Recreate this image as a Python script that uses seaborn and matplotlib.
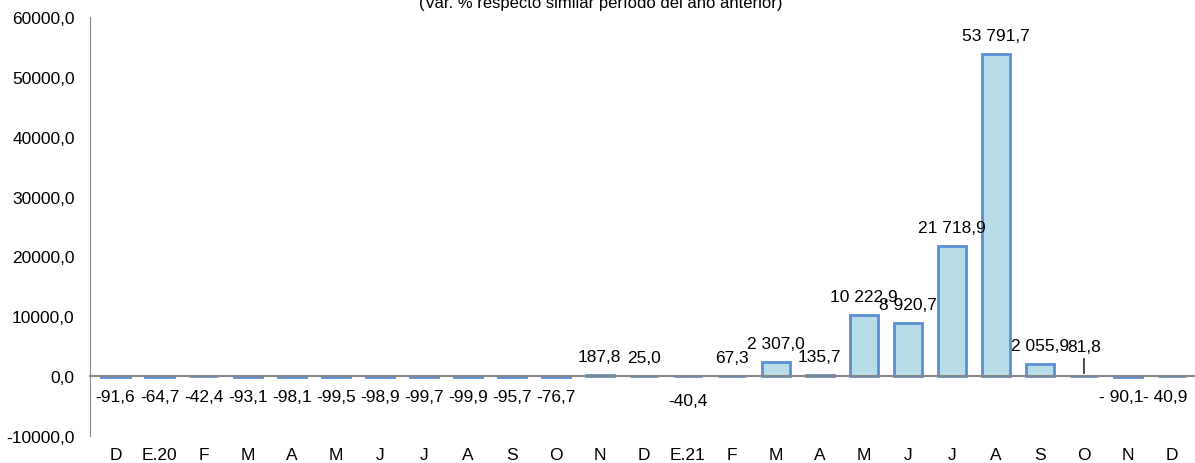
import numpy as np
import pandas as pd
import matplotlib
matplotlib.use("Agg")
import matplotlib.pyplot as plt
import seaborn as sns

meses = ["D", "E.20", "F", "M", "A", "M", "J", "J", "A", "S", "O", "N", "D",
         "E.21", "F", "M", "A", "M", "J", "J", "A", "S", "O", "N", "D"]
valores = [-91.6, -64.7, -42.4, -93.1, -98.1, -99.5, -98.9, -99.7, -99.9, -95.7, -76.7,
           187.8, 25.0, -40.4, 67.3, 2307.0, 135.7, 10222.9, 8920.7, 21718.9, 53791.7,
           2055.9, 81.8, -90.1, -40.9]
etiquetas = ["-91,6", "-64,7", "-42,4", "-93,1", "-98,1", "-99,5", "-98,9", "-99,7", "-99,9",
             "-95,7", "-76,7", "187,8", "25,0", "-40,4", "67,3", "2 307,0", "135,7",
             "10 222,9", "8 920,7", "21 718,9", "53 791,7", "2 055,9", "81,8",
             "- 90,1", "- 40,9"]
yticks = [-10000, 0, 10000, 20000, 30000, 40000, 50000, 60000]
titulo = "(Var. % respecto similar período del año anterior)"

df = pd.DataFrame({"idx": np.arange(len(valores)), "valor": valores})

sns.set_style("white")
plt.rcParams["font.family"] = ["Liberation Sans", "DejaVu Sans"]
plt.rcParams["text.color"] = "black"
plt.rcParams["xtick.labelcolor"] = "black"
plt.rcParams["ytick.labelcolor"] = "black"

fs = 12.5
gris = "#878787"
fig = plt.figure(figsize=(11.95, 4.64), dpi=100)
ax = fig.add_axes([90 / 1195, 27 / 464, 1104 / 1195, 419 / 464])

sns.barplot(data=df, x="idx", y="valor", ax=ax, width=0.64, color="#B7DDE8",
            saturation=1, edgecolor="#5B8FD6", linewidth=2)

ax.set_ylim(-10000, 60000)
ax.set_xlim(-0.58, len(valores) - 0.5)
ax.set_yticks(yticks)
ax.set_yticklabels([f"{v:.1f}".replace(".", ",") for v in yticks], fontsize=fs)
ax.set_xlabel("")
ax.set_ylabel("")

ax.spines["top"].set_visible(False)
ax.spines["right"].set_visible(False)
ax.spines["left"].set_color(gris)
ax.spines["bottom"].set_color(gris)
ax.spines["bottom"].set_linewidth(1.5)
ax.spines["bottom"].set_position(("data", 0))
ax.spines["bottom"].set_zorder(5)

ax.set_xticks(np.arange(len(meses)))
ax.set_xticklabels(meses, fontsize=fs)
ax.set_xticks(np.arange(len(meses) + 1) - 0.5, minor=True)
ax.tick_params(axis="x", which="major", length=0, pad=51)
ax.tick_params(axis="x", which="minor", length=5, color=gris, direction="out", width=1)
ax.tick_params(axis="y", length=5, color=gris, direction="out", width=1, pad=6)

for i, (v, t) in enumerate(zip(valores, etiquetas)):
    if v >= 0:
        if t == "81,8":
            ax.annotate(t, xy=(i, 0), xytext=(0, 16), textcoords="offset points",
                        ha="center", va="bottom", fontsize=fs,
                        arrowprops=dict(arrowstyle="-", color="black", lw=1,
                                        shrinkA=1, shrinkB=2))
        else:
            ax.annotate(t, xy=(i, v), xytext=(0, 8), textcoords="offset points",
                        ha="center", va="bottom", fontsize=fs)
    else:
        off = -12 if t == "-40,4" else -9
        dx = -5 if t.startswith("- ") else 0
        ax.annotate(t, xy=(i, 0), xytext=(dx, off), textcoords="offset points",
                    ha="center", va="top", fontsize=fs)

fig.text(0.503, 1 - 8 / 464, titulo, ha="center", va="baseline", fontsize=12)

fig.savefig("out.png", dpi=100)
